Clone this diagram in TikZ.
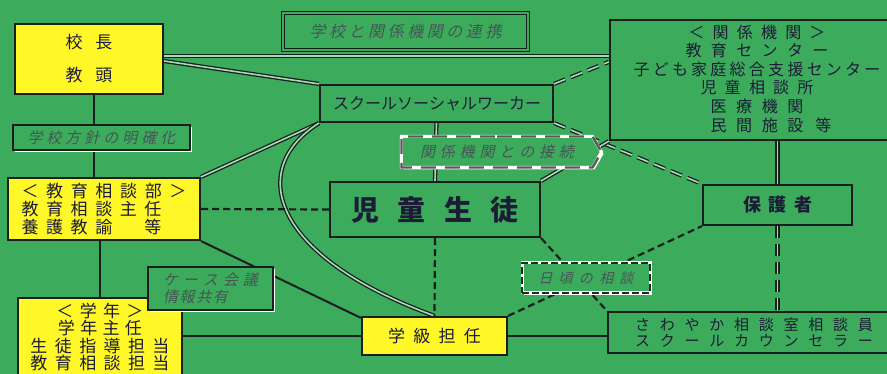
\documentclass[tikz,border=0pt]{standalone}
\usepackage{fontspec}
\usetikzlibrary{shadows,shapes.symbols}
\newfontfamily\jp{Noto Sans CJK JP}
\newfontfamily\jpit[FakeSlant=0.22]{Noto Sans CJK JP}
\ExplSyntaxOn
\bool_new:N \l_my_first_bool
\cs_new_protected:Npn \my_spread:n #1
  {
    \bool_set_true:N \l_my_first_bool
    \tl_map_inline:nn {#1}
      { \bool_if:NF \l_my_first_bool { \hfill } \bool_set_false:N \l_my_first_bool ##1 }
  }
\NewDocumentCommand \spr { m m } { \makebox[#1][s]{ \my_spread:n {#2} } }
\ExplSyntaxOff
\definecolor{bgg}{RGB}{60,172,92}
\definecolor{yel}{RGB}{255,247,40}
\definecolor{ink}{RGB}{28,28,55}
\definecolor{gink}{RGB}{70,85,85}
\definecolor{edge}{RGB}{25,30,30}
\pgfdeclarelayer{bgl}
\pgfdeclarelayer{lines}
\pgfsetlayers{bgl,lines,main}
\tikzset{
  box/.style={draw=edge, line width=2.2pt, inner sep=0pt, text=ink},
  ybox/.style={box, fill=yel},
  gbox/.style={box, fill=bgg},
  wshadow/.style={drop shadow={shadow xshift=2pt, shadow yshift=-2pt, fill=white, opacity=1}},
  lab/.style={draw=edge, line width=1.8pt, fill=bgg, inner sep=0pt, text=gink, wshadow},
  dlab/.style={draw=white, line width=3pt, fill=bgg, inner sep=0pt, text=gink, wshadow,
    postaction={draw=black!85, fill=none, line width=2.4pt, dash pattern=on 7pt off 3pt}},
  dlabg/.style={draw=white, line width=3pt, fill=bgg, inner sep=0pt, text=gink, wshadow,
    postaction={draw=black!65, fill=none, line width=2.4pt, dash pattern=on 15pt off 9pt}},
  dbl/.style={draw=edge, line width=1.3pt, double=bgg!45!white, double distance=1.6pt},
  ddbl/.style={dbl, dash pattern=on 12pt off 6pt},
  dsh/.style={draw=edge, line width=2.2pt, dash pattern=on 7pt off 4pt},
  sol/.style={draw=edge, line width=2pt}
}
\begin{document}
\begin{tikzpicture}[x=1pt,y=-1pt]
\useasboundingbox (0,0) rectangle (887,374);
\begin{pgfonlayer}{bgl}
\fill[bgg] (0,0) rectangle (887,374);
\end{pgfonlayer}

\node[ybox, minimum width=148, minimum height=70, align=center,
      font=\jp\fontsize{17}{33}\selectfont] (kocho) at (89,59)
      {\spr{47pt}{校長}\\\spr{47pt}{教頭}};
\node[lab, minimum width=177, minimum height=25,
      font=\jpit\fontsize{15}{15}\selectfont] (hoshin) at (101.5,137.5)
      {\spr{148pt}{学校方針の明確化}};
\node[ybox, minimum width=192, minimum height=62, align=left,
      font=\jp\fontsize{17}{18}\selectfont] (soudan) at (104,209)
      {\spr{165pt}{＜教育相談部＞}\\\spr{140pt}{教育相談主任}\\\spr{140pt}{養護教諭　等}};
\node[ybox, minimum width=164, minimum height=78, align=center,
      font=\jp\fontsize{17}{17.5}\selectfont] (gakunen) at (100,337)
      {\spr{87pt}{＜学年＞}\\\spr{84pt}{学年主任}\\\spr{139pt}{生徒指導担当}\\\spr{139pt}{教育相談担当}};
\node[lab, minimum width=125, minimum height=43, align=left,
      font=\jpit\fontsize{15}{17}\selectfont] (case) at (210.5,288.5)
      {\spr{95pt}{ケース会議}\\\spr{65pt}{情報共有}};
\node[lab, double=bgg, double distance=2pt, line width=1.3pt, minimum width=245, minimum height=37,
      font=\jpit\fontsize{16}{16}\selectfont] (renkei) at (405.5,31.5)
      {\spr{192pt}{学校と関係機関の連携}};
\node[gbox, minimum width=233, minimum height=37,
      font=\jp\fontsize{16}{16}\selectfont] (ssw) at (436.5,103.5)
      {\spr{207pt}{スクールソーシャルワーカー}};
\node[gbox, minimum width=290, minimum height=120] (kikan) at (755,80) {};
\node[text=ink, align=center, inner sep=0pt,
      font=\jp\fontsize{16}{18.6}\selectfont] (kikantxt) at (757,78.5)
      {\spr{137pt}{＜関係機関＞}\\\spr{143pt}{教育センター}\\\spr{247pt}{子ども家庭総合支援センター}\\
       \spr{113pt}{児童相談所}\\\spr{93pt}{医療機関}\\\makebox[93pt][l]{\spr{93pt}{民間施設}\hspace{12pt}等}};
\node[gbox, minimum width=210, minimum height=55,
      font=\jp\bfseries\fontsize{28}{28}\selectfont] (jido) at (435,209.5)
      {\spr{167pt}{児童生徒}};
\node[ybox, minimum width=145, minimum height=38,
      font=\jp\fontsize{17}{17}\selectfont] (gakkyu) at (434.5,336)
      {\spr{93pt}{学級担任}};
\node[gbox, minimum width=149, minimum height=40,
      font=\jp\bfseries\fontsize{18}{18}\selectfont] (hogosha) at (777.5,205)
      {\spr{69pt}{保護者}};
\node[gbox, minimum width=292, minimum height=41, align=center,
      font=\jp\fontsize{15}{16.5}\selectfont] (sawa) at (754,332.5)
      {\spr{238pt}{さわやか相談室相談員}\\\spr{238pt}{スクールカウンセラー}};
\node[dlabg, shape=signal, signal to=east, signal pointer angle=120,
      minimum width=200, minimum height=31,
      font=\jpit\fontsize{15}{15}\selectfont] (setsuzoku) at (497,152)
      {\spr{154pt}{関係機関との接続}};
\node[dlab, minimum width=128, minimum height=30,
      font=\jpit\fontsize{14}{14}\selectfont] (hibi) at (586,278)
      {\spr{95pt}{日頃の相談}};

\begin{pgfonlayer}{lines}
\draw[dbl] ([yshift=3pt]kocho.east) -- ([yshift=3pt]kocho.east -| kikan.west);
\draw[dbl] ([yshift=-2pt]kocho.east) -- (ssw.north west);
\draw[dbl] (ssw.south west) -- (soudan.north east);
\draw[dbl] (ssw.south west) .. controls (248,168) and (268,255) .. (gakkyu.north);
\draw[ddbl] (ssw.north east) -- ([yshift=-43pt]kikan.north west);
\draw[ddbl] (ssw.south east) -- (hogosha.north west);
\draw[dbl] (ssw.south) -- (jido.north);
\draw[dbl] (jido.north east) -- (kikan.south west);
\draw[dsh] (soudan.east) -- (jido.west);
\draw[sol] ([xshift=5pt]kocho.south) -- ([xshift=5pt]kocho.south |- soudan.north);
\draw[sol] (gakunen.north |- soudan.south) -- (gakunen.north);
\draw[sol] (soudan.south east) -- ([yshift=-2pt]gakkyu.north west);
\draw[sol] (gakkyu.west -| gakunen.east) -- (gakkyu.west);
\draw[sol] (gakkyu.east) -- (gakkyu.east -| sawa.west);
\draw[dsh] (jido.south) -- (gakkyu.north);
\draw[dsh] (jido.south east) -- (sawa.north west);
\draw[dsh] (gakkyu.north east) -- (hogosha.south west);
\draw[dbl] (hogosha.north |- kikan.south) -- (hogosha.north);
\draw[ddbl] (hogosha.south) -- (hogosha.south |- sawa.north);
\end{pgfonlayer}
\end{tikzpicture}
\end{document}
